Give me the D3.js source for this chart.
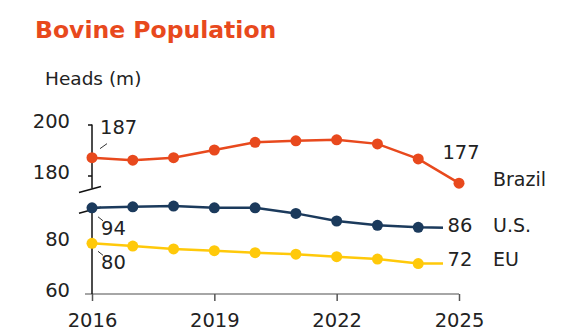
<!DOCTYPE html>
<html>
<head>
<meta charset="utf-8">
<script src="https://cdn.jsdelivr.net/npm/d3@7"></script>
<style>
  body { margin: 0; background: #fff; }
  svg { display: block; }
</style>
</head>
<body>
<div class="chart"></div>
<script>
const dims = { width: 570, height: 336 };

// data
const years = [2016, 2017, 2018, 2019, 2020, 2021, 2022, 2023, 2024, 2025];
const brazil = [187, 186, 187, 190, 193, 193.6, 194, 192.4, 186.5, 177];
const us = [94, 94.4, 94.7, 94, 94, 91.8, 88.8, 87.1, 86.3, 86];
const eu = [80, 78.9, 77.8, 77.1, 76.3, 75.7, 74.7, 73.8, 72, 72];
const xTicks = [2016, 2019, 2022, 2025];
const topTicks = [200, 180];
const bottomTicks = [80, 60];

const brazil_color = '#E8491D';
const us_color = '#1B3A5C';
const eu_color = '#FFC90A';
const text_color = '#222';
const font = '"DejaVu Sans", sans-serif';

var svg = d3.select('.chart')
            .append('svg')
            .attr('width', dims.width)
            .attr('height', dims.height);

var x = d3.scaleLinear().domain([2016, 2025]).range([92, 459]);
// broken y axis: upper part for Brazil, lower part for U.S. and EU
var yTop = d3.scaleLinear().domain([180, 200]).range([175.5, 124.5]);
var yBot = d3.scaleLinear().domain([60, 80]).range([294, 243.3]);

// title
svg.append('text')
   .attr('x', 35).attr('y', 38)
   .attr('font-family', font)
   .attr('font-weight', 'bold')
   .attr('font-size', 23.5)
   .style('fill', brazil_color)
   .text('Bovine Population');

svg.append('text')
   .attr('x', 45).attr('y', 85)
   .attr('font-family', font)
   .attr('font-size', 18.5)
   .style('fill', text_color)
   .text('Heads (m)');

// x axis
const x_axis = svg.append('g').attr('transform', `translate(0,${yBot(60)})`)
                  .call(d3.axisBottom(x).tickValues(xTicks).tickFormat(d3.format('d')).tickSize(7).tickSizeOuter(0));
x_axis.select('.domain').attr('stroke', '#888').attr('stroke-width', 1.5)
      .attr('d', `M85,0H${x(2025)}`);
x_axis.selectAll('.tick line').attr('stroke', '#555').attr('stroke-width', 1.5);
x_axis.selectAll('.tick text').attr('font-size', 19.5).attr('font-family', font)
      .attr('y', 33).attr('dy', 0).style('fill', text_color);

// y axis (two pieces)
const breakTop = yTop(180) + 13;
const breakBot = yBot(80) - 34;
const y_top = svg.append('g').attr('transform', `translate(${x(2016)},0)`)
                 .call(d3.axisLeft(yTop).tickValues(topTicks).tickSize(4).tickSizeOuter(0));
const y_bot = svg.append('g').attr('transform', `translate(${x(2016)},0)`)
                 .call(d3.axisLeft(yBot).tickValues(bottomTicks).tickSize(4).tickSizeOuter(0));
y_top.select('.domain').attr('d', `M0,${yTop(200)}V${breakTop}`);
y_bot.select('.domain').attr('d', `M0,${breakBot}V${yBot(60)}`);
[y_top, y_bot].forEach(function(g) {
  g.select('.domain').attr('stroke', '#111').attr('stroke-width', 1.5);
  g.selectAll('.tick line').attr('stroke', '#111').attr('stroke-width', 1.5);
  g.selectAll('.tick text').attr('font-size', 19.5).attr('font-family', font)
   .attr('x', -22).attr('dy', 2.5).style('fill', text_color);
});
y_bot.selectAll('.tick').filter(d => d === 60).select('line').remove();

// break marks
svg.selectAll('.brk').data([breakTop, breakBot]).enter().append('line')
   .attr('x1', x(2016) - 13).attr('x2', x(2016) + 9)
   .attr('y1', d => d + 4).attr('y2', d => d - 2)
   .attr('stroke', '#111').attr('stroke-width', 1.5);

// series
const series = [
  { key: 'brazil', name: 'Brazil', values: brazil, y: yTop, color: brazil_color, dots: years.length },
  { key: 'us', name: 'U.S.', values: us, y: yBot, color: us_color, dots: years.length - 1 },
  { key: 'eu', name: 'EU', values: eu, y: yBot, color: eu_color, dots: years.length - 1 }
];

series.forEach(function(s) {
  const line = d3.line().x((d, i) => x(years[i])).y(d => s.y(d));
  svg.append('path').datum(s.values)
     .attr('d', line)
     .attr('fill', 'none')
     .attr('stroke', s.color)
     .attr('stroke-width', 2.5);
  svg.selectAll('.dot-' + s.key).data(s.values.slice(0, s.dots)).enter().append('circle')
     .attr('class', 'dot-' + s.key)
     .attr('cx', (d, i) => x(years[i]))
     .attr('cy', d => s.y(d))
     .attr('r', 5.5)
     .attr('fill', s.color);
});

// end labels for U.S. and EU sit on the line end, with white box behind
[{ s: series[1], dy: 3.5 }, { s: series[2], dy: 2.5 }].forEach(function(o) {
  const v = o.s.values[o.s.values.length - 1];
  const cx = x(2025) + 1, base = o.s.y(v) + o.dy;
  svg.append('rect').attr('x', cx - 17).attr('y', base - 18).attr('width', 34).attr('height', 22).attr('fill', '#fff');
  svg.append('text').attr('x', cx).attr('y', base)
     .attr('text-anchor', 'middle').attr('font-family', font).attr('font-size', 19.5)
     .style('fill', text_color).text(d3.format('d')(v));
});

// Brazil end label above its last point
svg.append('text').attr('x', x(2025) + 2).attr('y', yTop(brazil[9]) - 24)
   .attr('text-anchor', 'middle').attr('font-family', font).attr('font-size', 19.5)
   .style('fill', text_color).text(d3.format('d')(brazil[9]));

// series names
series.forEach(function(s, i) {
  const offs = [3, 3.5, 2.5];
  svg.append('text').attr('x', 493).attr('y', s.y(s.values[9]) + offs[i])
     .attr('font-family', font).attr('font-size', 19)
     .style('fill', text_color).text(s.name);
});

// start labels with small leader lines
const starts = [
  { v: brazil[0], y: yTop, lx: [8, 15], ly: [-9, -14], tx: 8, ty: -24 },
  { v: us[0], y: yBot, lx: [6, 11], ly: [9, 13], tx: 9, ty: 27 },
  { v: eu[0], y: yBot, lx: [6, 11], ly: [8, 12], tx: 9, ty: 26 }
];
starts.forEach(function(s) {
  const px = x(2016), py = s.y(s.v);
  svg.append('line')
     .attr('x1', px + s.lx[0]).attr('x2', px + s.lx[1])
     .attr('y1', py + s.ly[0]).attr('y2', py + s.ly[1])
     .attr('stroke', '#333').attr('stroke-width', 1);
  svg.append('text').attr('x', px + s.tx).attr('y', py + s.ty)
     .attr('font-family', font).attr('font-size', 19.5)
     .style('fill', text_color).text(d3.format('d')(s.v));
});
</script>
</body>
</html>
